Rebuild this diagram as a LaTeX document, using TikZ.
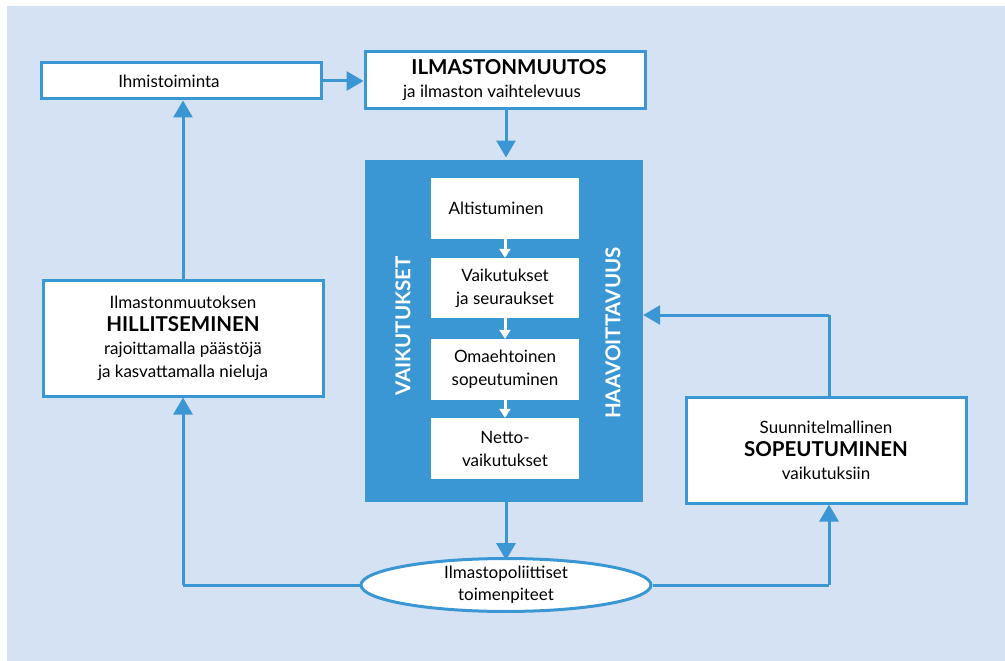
\documentclass[tikz,border=0pt]{standalone}
\usepackage{fontspec}
\setmainfont{Lato}
\usetikzlibrary{arrows.meta,shapes.geometric}
\definecolor{bgblue}{RGB}{213,226,243}
\definecolor{midblue}{RGB}{58,151,212}
\newcommand{\bigbold}{\fontsize{20.5}{23}\selectfont\bfseries}
\tikzset{
  wbox/.style={draw=midblue,line width=3pt,fill=white,align=center,inner sep=0pt,
    minimum width=280pt,font=\fontsize{17}{23}\selectfont},
  ibox/.style={fill=white,align=center,inner sep=0pt,minimum width=148pt,minimum height=61pt,
    font=\fontsize{17}{23}\selectfont},
  conn/.style={draw=midblue,line width=3pt,-{Triangle[width=19pt,length=17pt]}},
  plain/.style={draw=midblue,line width=3pt},
  warrow/.style={draw=white,line width=3pt,-{Triangle[width=11pt,length=9pt]}},
  vlabel/.style={text=white,font=\bigbold,rotate=90,inner sep=0pt}
}
\begin{document}
\begin{tikzpicture}[x=1pt,y=-1pt]
\useasboundingbox (0,0) rectangle (1005,661);
\fill[bgblue] (7,6) rectangle (1005,661);

\node[wbox,minimum height=36pt] (ihm) at (181,81) {Ihmistoiminta\hspace*{24pt}};
\node[wbox,minimum height=57pt] (ilm) at (505,80.5) {\hspace*{8pt}{\bigbold ILMASTONMUUTOS}\\ja ilmaston vaihtelevuus\hspace*{26pt}};

\node[fill=midblue,minimum width=278pt,minimum height=342pt,inner sep=0pt] (blue) at (504,331) {};
\node[ibox] (alt) at (505,208.5) {Altistuminen\hspace*{18pt}};
\node[ibox,minimum height=60pt] (vai) at (505,288) {Vaikutukset\\ja seuraukset};
\node[ibox] (oma) at (505,369.5) {Omaehtoinen\\sopeutuminen};
\node[ibox] (net) at (505,448.5) {Netto-\\vaikutukset};
\node[vlabel] (vk) at (403,326) {VAIKUTUKSET};
\node[vlabel] (ha) at (613,333) {HAAVOITTAVUUS};

\node[wbox,minimum height=116pt] (hil) at (183,338) {Ilmastonmuutoksen\\{\bigbold HILLITSEMINEN}\\rajoittamalla päästöjä\\ja kasvattamalla nieluja};
\node[wbox,minimum height=106pt] (sop) at (826,450) {Suunnitelmallinen\\{\bigbold SOPEUTUMINEN}\\vaikutuksiin};

\node[ellipse,draw=midblue,line width=3pt,fill=white,minimum width=290pt,minimum height=52pt,inner sep=0pt,align=center,font=\fontsize{17}{22}\selectfont] (ell) at (506,585) {Ilmastopoliittiset\\toimenpiteet};

\coordinate (ec) at (183,585);
\coordinate (sc) at (829,585);
\coordinate (st) at (829,315);

\draw[conn] (ihm.east) -- (ilm.west |- ihm.east);
\draw[conn] (ilm.south -| blue.north) ++(2,0) -- ++(0,47);
\draw[conn] (blue.south) ++(2,0) -- ++(0,58);
\draw[conn] (hil.north) -- (hil.north |- ihm.south);
\draw[plain] (ell.west) -- (ec);
\draw[conn] (ec) -- (hil.south);
\draw[plain] (ell.east) -- (sc);
\draw[conn] (sc) -- (sop.south -| sc);
\draw[plain] (sop.north -| st) -- (st);
\draw[conn] (st) -- (st -| blue.east);

\draw[warrow] (alt.south) -- (vai.north);
\draw[warrow] (vai.south) -- (oma.north);
\draw[warrow] (oma.south) -- (net.north);
\end{tikzpicture}
\end{document}
